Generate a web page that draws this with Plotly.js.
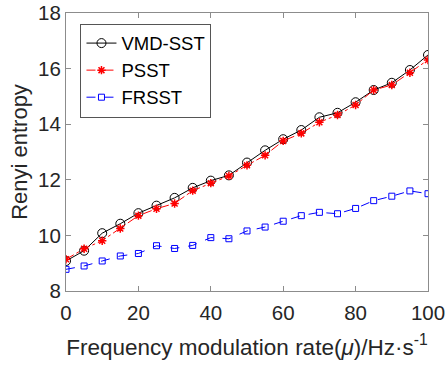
<!DOCTYPE html>
<html>
<head>
<meta charset="utf-8">
<script src="https://cdn.plot.ly/plotly-3.0.1.min.js"></script>
<style>html,body{margin:0;padding:0;background:#fff;}#chart{width:447px;height:367px;}</style>
</head>
<body>
<div id="chart"></div>
<script>
const mu = [0,5,10,15,20,25,30,35,40,45,50,55,60,65,70,75,80,85,90,95,100];
const vmdSST = [9.08,9.45,10.08,10.42,10.80,11.07,11.35,11.71,11.97,12.16,12.62,13.06,13.46,13.79,14.25,14.41,14.79,15.23,15.49,15.95,16.49];
const psst = [9.14,9.52,9.81,10.25,10.71,10.96,11.15,11.61,11.88,12.14,12.52,12.88,13.40,13.67,14.07,14.33,14.69,15.23,15.41,15.85,16.31];
const frsst = [8.78,8.90,9.08,9.26,9.35,9.63,9.53,9.64,9.92,9.88,10.16,10.30,10.51,10.71,10.83,10.78,10.97,11.25,11.41,11.60,11.50];
const xTicks = [0,20,40,60,80,100];
const yTicks = [8,10,12,14,16,18];

const FONT = 'Liberation Sans, Arial, sans-serif';

const traces = [
  {x: mu, y: vmdSST, name: 'VMD-SST', mode: 'lines+markers',
   line: {color: '#000000', width: 1, dash: 'solid'},
   marker: {symbol: 'circle-open', size: 9, color: '#000000', line: {width: 1}}},
  {x: mu, y: psst, name: 'PSST', mode: 'lines+markers',
   line: {color: '#ff0000', width: 1, dash: 'dashdot'},
   marker: {symbol: 'asterisk-open', size: 7, color: '#ff0000', line: {width: 1.5, color: '#ff0000'}}},
  {x: mu, y: frsst, name: 'FRSST', mode: 'lines+markers',
   line: {color: '#0000ff', width: 1, dash: 'dash'},
   marker: {symbol: 'square-open', size: 6, color: '#0000ff', line: {width: 1}}}
];

const axisCommon = {
  showgrid: false, zeroline: false, showline: true, mirror: 'ticks',
  linecolor: '#8c8c8c', linewidth: 1, ticks: 'inside', ticklen: 5,
  tickcolor: '#8c8c8c', tickfont: {family: FONT, size: 20.5, color: '#262626'}
};

const layout = {
  width: 447, height: 367,
  margin: {l: 66, r: 19, t: 13, b: 76},
  paper_bgcolor: '#ffffff', plot_bgcolor: '#ffffff',
  showlegend: true,
  legend: {x: 0.04, y: 0.962, xanchor: 'left', yanchor: 'top',
    bgcolor: '#ffffff', bordercolor: '#555555', borderwidth: 1,
    font: {family: FONT, size: 18.5, color: '#000000'},
    itemwidth: 30, tracegroupgap: 0},
  xaxis: Object.assign({}, axisCommon, {
    range: [0, 100], tickvals: xTicks, ticktext: xTicks.map(String),
    ticklabelstandoff: 3,
    title: {text: 'Frequency modulation rate(<i>μ</i>)/Hz·s<sup>-1</sup>', standoff: 16,
      font: {family: FONT, size: 22.5, color: '#262626'}}
  }),
  yaxis: Object.assign({}, axisCommon, {
    range: [8, 18], tickvals: yTicks, ticktext: yTicks.map(String),
    title: {text: 'Renyi entropy', standoff: 4,
      font: {family: FONT, size: 22, color: '#262626'}}
  })
};

Plotly.newPlot('chart', traces, layout, {displayModeBar: false, staticPlot: true});
</script>
</body>
</html>
